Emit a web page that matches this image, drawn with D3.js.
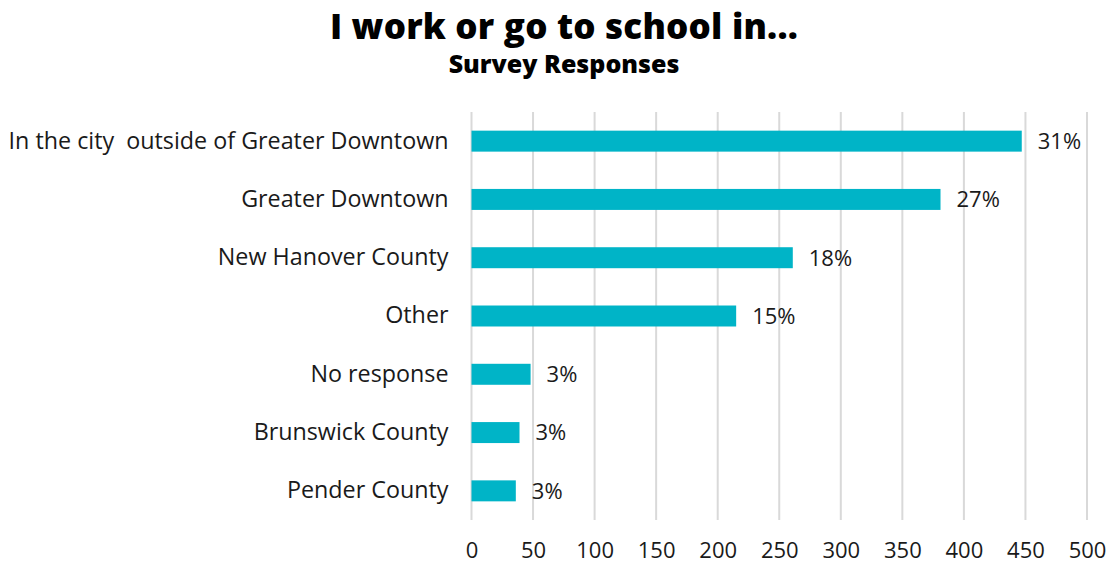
<!DOCTYPE html>
<html>
<head>
<meta charset="utf-8">
<script src="https://cdn.jsdelivr.net/npm/d3@7"></script>
<style>
  body { margin: 0; background: #fff; }
  svg { font-family: "Open Sans", Lato, sans-serif; }
  .axis text { font-family: "Open Sans", Lato, sans-serif; font-size: 22px; fill: #1a1a1a; white-space: pre; }
  .axis.cat text { font-size: 23.3px; }
</style>
</head>
<body>
<svg id="chart" width="1115" height="568"></svg>
<script>
// survey counts
var categories = [
  "In the city  outside of Greater Downtown",
  "Greater Downtown",
  "New Hanover County",
  "Other",
  "No response",
  "Brunswick County",
  "Pender County"
];
var counts = [447, 381, 261, 215, 48, 39, 36];
var percentLabels = ["31%", "27%", "18%", "15%", "3%", "3%", "3%"];
var xTicks = [0, 50, 100, 150, 200, 250, 300, 350, 400, 450, 500];

var svg = d3.select("#chart");
var margin = {top: 112, right: 28, bottom: 48, left: 471.5};
var width = +svg.attr("width") - margin.left - margin.right;
var height = +svg.attr("height") - margin.top - margin.bottom;

var data = categories.map(function(c, i) {
  return {name: c, value: counts[i], label: percentLabels[i]};
});

var x = d3.scaleLinear().domain([0, 500]).range([0, width]);
var y = d3.scaleBand().domain(categories).range([0, height]).paddingInner(0.64).paddingOuter(0.32);

svg.append("text")
    .attr("x", 564)
    .attr("y", 39)
    .attr("text-anchor", "middle")
    .style("font-size", "35px")
    .style("font-weight", 800)
    .style("letter-spacing", "0.2px")
    .style("fill", "#000")
    .text("I work or go to school in...");

svg.append("text")
    .attr("x", 564)
    .attr("y", 73)
    .attr("text-anchor", "middle")
    .style("font-size", "25px")
    .style("font-weight", 800)
    .style("fill", "#000")
    .text("Survey Responses");

var g = svg.append("g")
    .attr("transform", "translate(" + margin.left + "," + margin.top + ")");

// vertical gridlines
g.append("g").selectAll("line")
  .data(xTicks)
  .enter().append("line")
    .attr("x1", function(d) { return x(d); })
    .attr("x2", function(d) { return x(d); })
    .attr("y1", 0)
    .attr("y2", height)
    .style("stroke", "#d9d9d9")
    .style("stroke-width", 2);

g.append("g").selectAll("rect")
  .data(data)
  .enter().append("rect")
    .attr("x", x(0))
    .attr("y", function(d) { return y(d.name); })
    .attr("width", function(d) { return x(d.value) - x(0); })
    .attr("height", y.bandwidth())
    .style("fill", "#00b4c7");

g.append("g").selectAll("text")
  .data(data)
  .enter().append("text")
    .attr("x", function(d) { return x(d.value) + 16; })
    .attr("y", function(d) { return y(d.name) + y.bandwidth() / 2; })
    .attr("dy", "0.36em")
    .style("font-size", "22px")
    .style("fill", "#1a1a1a")
    .text(function(d) { return d.label; });

// category labels
var yAxis = g.append("g")
    .attr("class", "axis cat")
    .call(d3.axisLeft(y).tickSize(0).tickPadding(23));
yAxis.select(".domain").remove();

var xAxis = g.append("g")
    .attr("class", "axis")
    .attr("transform", "translate(0," + height + ")")
    .call(d3.axisBottom(x).tickValues(xTicks).tickSize(0).tickPadding(22));
xAxis.select(".domain").remove();
</script>
</body>
</html>
